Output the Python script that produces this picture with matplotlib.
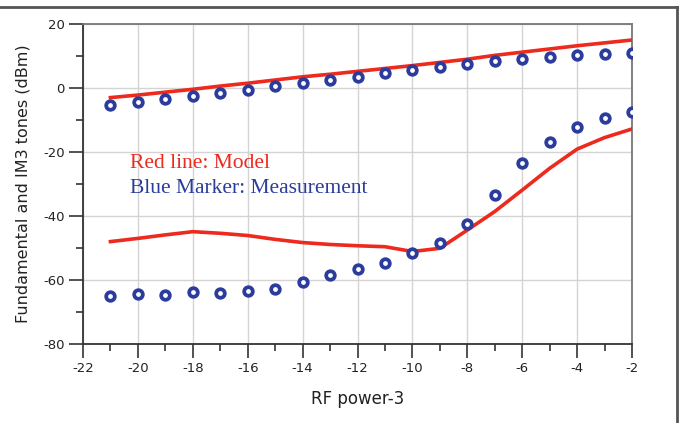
import numpy as np
import matplotlib.pyplot as plt
from matplotlib.lines import Line2D
from matplotlib.ticker import MultipleLocator

plt.rcParams["axes.unicode_minus"] = False

# RF input power sweep
rf_power = [-21, -20, -19, -18, -17, -16, -15, -14, -13, -12,
            -11, -10, -9, -8, -7, -6, -5, -4, -3, -2]

# fundamental tone
fund_model = [-3.0, -2.2, -1.3, -0.4, 0.6, 1.5, 2.5, 3.5, 4.3, 5.2,
              6.1, 7.0, 8.0, 9.0, 10.2, 11.2, 12.2, 13.2, 14.1, 15.0]
fund_meas = [-5.3, -4.5, -3.4, -2.6, -1.6, -0.6, 0.5, 1.7, 2.5, 3.5,
             4.7, 5.5, 6.6, 7.5, 8.3, 9.1, 9.7, 10.2, 10.5, 10.8]

# third-order intermod tone
im3_model = [-48.0, -47.0, -45.9, -44.9, -45.4, -46.1, -47.3, -48.3, -48.9, -49.3,
             -49.6, -51.1, -50.1, -44.4, -38.6, -31.9, -25.1, -19.1, -15.5, -12.8]
im3_meas = [-65.1, -64.5, -64.8, -63.9, -64.2, -63.3, -62.7, -60.5, -58.5, -56.7,
            -54.7, -51.7, -48.3, -42.4, -33.4, -23.5, -17.0, -12.2, -9.4, -7.6]

RED = "#ec2a1e"
BLUE = "#2b3c9c"

fig = plt.figure(figsize=(6.82, 4.23), dpi=100)
ax = fig.add_axes([83 / 682, 1 - 344 / 423, 549 / 682, 320 / 423])

for y in (fund_model, im3_model):
    ax.plot(rf_power, y, color=RED, lw=2.6, zorder=3)
for y in (fund_meas, im3_meas):
    ax.plot(rf_power, y, ls="none", marker="o", ms=6.2, mfc="white",
            mec=BLUE, mew=2.7, zorder=4)

ax.set_xlim(-22, -2)
ax.set_ylim(-80, 20)
ax.xaxis.set_major_locator(MultipleLocator(2))
ax.xaxis.set_minor_locator(MultipleLocator(1))
ax.yaxis.set_major_locator(MultipleLocator(20))
ax.yaxis.set_minor_locator(MultipleLocator(10))
ax.grid(True, which="major", color="#d4d4d4", lw=1.0, zorder=0)
ax.tick_params(which="major", length=10, width=1.2, color="#333333",
               labelsize=9.5, labelcolor="#222222", pad=3)
ax.tick_params(which="minor", length=5, width=1.2, color="#333333")

for side in ("left", "bottom"):
    ax.spines[side].set_color("#333333")
    ax.spines[side].set_linewidth(1.3)
for side in ("top", "right"):
    ax.spines[side].set_color("#777777")
    ax.spines[side].set_linewidth(1.3)

ax.set_xlabel("RF power-3", fontsize=12, color="#222222", labelpad=11)
ax.set_ylabel("Fundamental and IM3 tones (dBm)", fontsize=11.5,
              color="#222222", labelpad=9)

ax.text(-20.3, -25.0, "Red line: Model", color=RED, fontsize=15.5,
        family="Liberation Serif")
ax.text(-20.3, -32.8, "Blue Marker: Measurement", color=BLUE, fontsize=15.5,
        family="Liberation Serif")

# outer frame (top and right edges)
fig.add_artist(Line2D([0, 677 / 682], [1 - 7 / 423, 1 - 7 / 423],
                      color="#555555", lw=2, transform=fig.transFigure))
fig.add_artist(Line2D([677 / 682, 677 / 682], [0, 1 - 7 / 423],
                      color="#555555", lw=2, transform=fig.transFigure))

fig.savefig("out.png", dpi=100)
